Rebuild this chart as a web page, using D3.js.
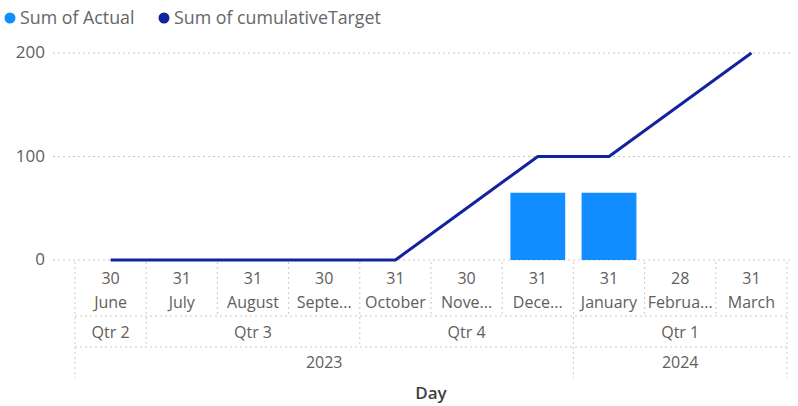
<!DOCTYPE html>
<html><head><meta charset="utf-8">
<script src="https://cdn.jsdelivr.net/npm/d3@7"></script>
<style>
body{margin:0;background:#fff;}
text{font-family:"Segoe UI","Open Sans","Noto Sans",sans-serif;}
</style></head>
<body><svg id="c" width="798" height="406"></svg>
<script>
const months = ["June","July","August","September","October","November","December","January","February","March"];
const monthLabels = ["June","July","August","Septe...","October","Nove...","Dece...","January","Februa...","March"];
const dayLabels = ["30","31","31","30","31","30","31","31","28","31"];
const quarterLabels = ["Qtr 2","Qtr 3","Qtr 4","Qtr 1"];
const quarterSpans = [1,3,3,3];
const yearLabels = ["2023","2024"];
const yearSpans = [7,3];
const actual = [null,null,null,null,null,null,65,65,null,null];
const cumulativeTarget = [0,0,0,0,0,50,100,100,150,200];
const yTicks = [0,100,200];

(function(){
const svg = d3.select("#c");
const x = d3.scaleBand().domain(months).range([75,787]).padding(0);
const xb = d3.scaleBand().domain(months).range([75,787]).paddingInner(0.23).paddingOuter(0.115);
const y = d3.scaleLinear().domain([0,200]).range([260,53]);
const grid = "#c8c8c8";
const txt = "#605e5c";
const fs = 16;

svg.append("g").selectAll("line").data(yTicks).join("line")
  .attr("x1",53).attr("x2",790).attr("y1",d=>y(d)).attr("y2",d=>y(d))
  .attr("stroke",grid).attr("stroke-width",1).attr("stroke-dasharray","2,3");
svg.append("g").selectAll("text").data(yTicks).join("text")
  .attr("x",45).attr("y",d=>y(d)+5).attr("text-anchor","end")
  .attr("font-size",17).attr("fill",txt).text(d=>d);

svg.append("g").selectAll("rect").data(months.filter((m,i)=>actual[i]!=null)).join("rect")
  .attr("x",m=>xb(m)).attr("width",xb.bandwidth())
  .attr("y",m=>y(actual[months.indexOf(m)])).attr("height",m=>y(0)-y(actual[months.indexOf(m)]))
  .attr("fill","#118DFF");

const line = d3.line().x((d,i)=>x(months[i])+x.bandwidth()/2).y(d=>y(d));
svg.append("path").datum(cumulativeTarget).attr("d",line)
  .attr("fill","none").attr("stroke","#12239E").attr("stroke-width",3).attr("stroke-linejoin","round");

const axTop = 262, rowMonthBottom = 316, rowQtrBottom = 347, axBottom = 378;
const ax = svg.append("g");
function vline(xp, y2){
  ax.append("line").attr("x1",xp).attr("x2",xp).attr("y1",axTop).attr("y2",y2)
    .attr("stroke",grid).attr("stroke-dasharray","2,3");
}
function hline(yp){
  ax.append("line").attr("x1",75).attr("x2",787).attr("y1",yp).attr("y2",yp)
    .attr("stroke",grid).attr("stroke-dasharray","2,3");
}
hline(rowMonthBottom); hline(rowQtrBottom);
const qBounds = new Set(); let acc=0; quarterSpans.forEach(s=>{acc+=s; qBounds.add(acc);});
const yBounds = new Set(); acc=0; yearSpans.forEach(s=>{acc+=s; yBounds.add(acc);});
for(let i=0;i<=months.length;i++){
  const xp = i<months.length ? x(months[i]) : x(months[months.length-1])+x.bandwidth();
  let y2 = rowMonthBottom;
  if(i===0 || yBounds.has(i)) y2 = axBottom;
  else if(qBounds.has(i)) y2 = rowQtrBottom;
  vline(xp,y2);
}
months.forEach((m,i)=>{
  const cx = x(m)+x.bandwidth()/2;
  ax.append("text").attr("x",cx).attr("y",284).attr("text-anchor","middle").attr("font-size",fs).attr("fill",txt).text(dayLabels[i]);
  ax.append("text").attr("x",cx).attr("y",308).attr("text-anchor","middle").attr("font-size",fs).attr("fill",txt).text(monthLabels[i]);
});
function spanRow(labels, spans, yp){
  let s=0;
  labels.forEach((l,i)=>{
    const x0 = x(months[s]); const e = s+spans[i]-1;
    const x1 = x(months[e])+x.bandwidth();
    ax.append("text").attr("x",(x0+x1)/2).attr("y",yp).attr("text-anchor","middle").attr("font-size",fs).attr("fill",txt).text(l);
    s += spans[i];
  });
}
spanRow(quarterLabels, quarterSpans, 338);
spanRow(yearLabels, yearSpans, 368);

svg.append("text").attr("x",(75+787)/2).attr("y",399).attr("text-anchor","middle")
  .attr("font-size",17).attr("font-weight",600).attr("fill","#404040").text("Day");

const leg = svg.append("g");
const legendItems = [{label:"Sum of Actual",color:"#118DFF",x:10},{label:"Sum of cumulativeTarget",color:"#12239E",x:164}];
legendItems.forEach(d=>{
  leg.append("circle").attr("cx",d.x).attr("cy",18).attr("r",5.5).attr("fill",d.color);
  leg.append("text").attr("x",d.x+10).attr("y",24).attr("font-size",17.8).attr("fill","#666").text(d.label);
});
})();
</script></body></html>
